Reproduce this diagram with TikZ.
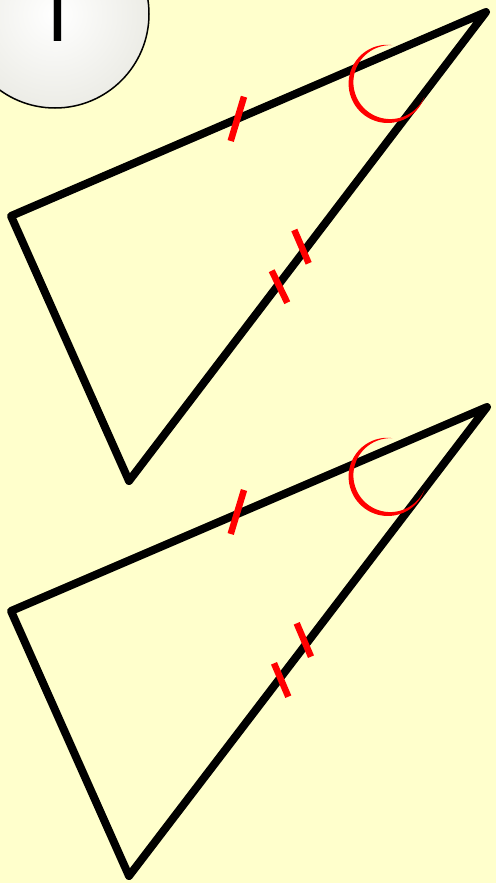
\documentclass[tikz,border=0pt]{standalone}
\usepackage{fontspec}
\newfontfamily\numfont{TeX Gyre Heros}
\definecolor{bgyellow}{HTML}{FFFFCC}
\definecolor{discgray}{HTML}{ECECE6}
\tikzset{
  side/.style={line width=8pt, line join=round, line cap=round, black},
  tick/.style={line width=6.5pt, red},
}
\begin{document}
\begin{tikzpicture}[x=1pt,y=-1pt]
\useasboundingbox (0,0) rectangle (496,883);
\clip (0,0) rectangle (496,883);
\fill[bgyellow] (0,0) rectangle (496,883);
% numbered disc
\shade[inner color=white, outer color=discgray] (55,14) circle (94);
\draw[line width=1.5pt] (55,14) circle (94);
\node[anchor=base, inner sep=0pt] (num) at (56,42) {\numfont\fontsize{84}{84}\selectfont 1};
% triangle 1
\coordinate (A1) at (11,216);
\coordinate (B1) at (486,12);
\coordinate (C1) at (129,481);
\draw[side] (A1) -- (B1) -- (C1) -- cycle;
\draw[tick] (244,96.7) -- (230.7,141);
\draw[tick] (294.3,230) -- (308.7,263.3);
\draw[tick] (271.7,270.7) -- (287.3,302.7);
\fill[red] plot[domain=21:275, samples=80]
  ({389+(38+2.6*sin((\x-21)/254*180))*cos(\x)}, {83+(38+2.6*sin((\x-21)/254*180))*sin(\x)})
  -- plot[domain=275:21, samples=80]
  ({389+(38-2.6*sin((\x-21)/254*180))*cos(\x)}, {83+(38-2.6*sin((\x-21)/254*180))*sin(\x)})
  -- cycle;
% triangle 2
\coordinate (A2) at (11,611);
\coordinate (B2) at (487,407);
\coordinate (C2) at (129,876);
\draw[side] (A2) -- (B2) -- (C2) -- cycle;
\draw[tick] (244,490) -- (230.7,534);
\draw[tick] (296.7,623.3) -- (311,656.7);
\draw[tick] (274,663.3) -- (288.3,696.7);
\fill[red] plot[domain=21:275, samples=80]
  ({389+(38+2.6*sin((\x-21)/254*180))*cos(\x)}, {476+(38+2.6*sin((\x-21)/254*180))*sin(\x)})
  -- plot[domain=275:21, samples=80]
  ({389+(38-2.6*sin((\x-21)/254*180))*cos(\x)}, {476+(38-2.6*sin((\x-21)/254*180))*sin(\x)})
  -- cycle;
\end{tikzpicture}
\end{document}
